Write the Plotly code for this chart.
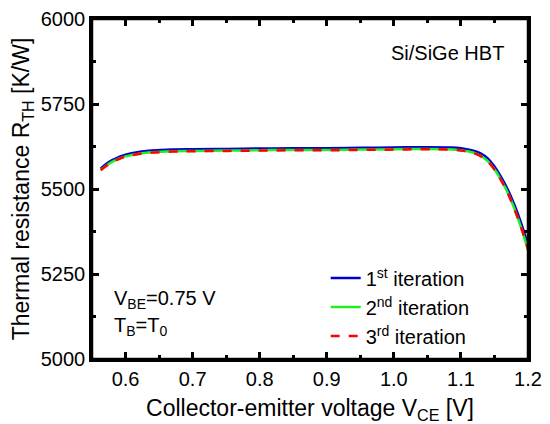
import plotly.graph_objs as go

# values
vce = [0.563, 0.57, 0.58, 0.59, 0.60, 0.62, 0.64, 0.67, 0.70, 0.75, 0.80, 0.85,
       0.90, 0.95, 1.00, 1.05, 1.08, 1.10, 1.12, 1.13, 1.14, 1.15, 1.16, 1.17,
       1.18, 1.19, 1.20]
rth_1st = [5560, 5572, 5585, 5594, 5601, 5609, 5613, 5616, 5617, 5618, 5619, 5620,
           5620, 5621, 5622, 5623, 5622, 5620, 5612, 5604, 5590, 5566, 5535, 5498,
           5452, 5398, 5336]
rth_2nd = [5556, 5567, 5580, 5589, 5596, 5604, 5608, 5611, 5612, 5613, 5614, 5615,
           5615, 5616, 5617, 5618, 5617, 5614, 5606, 5597, 5582, 5558, 5526, 5488,
           5441, 5385, 5320]
rth_3rd = [5555, 5566, 5579, 5588, 5595, 5603, 5607, 5610, 5611, 5612, 5613, 5614,
           5614, 5615, 5616, 5617, 5616, 5613, 5605, 5596, 5581, 5557, 5525, 5487,
           5440, 5386, 5324]

x_range = [0.55, 1.2]
y_range = [5000, 6000]
x_major = [0.6, 0.7, 0.8, 0.9, 1.0, 1.1, 1.2]
y_major = [5000, 5250, 5500, 5750, 6000]

font = "Liberation Sans, Arial, sans-serif"

fig = go.Figure()
fig.add_trace(go.Scatter(x=vce, y=rth_1st, mode="lines", name="1<sup>st</sup> iteration",
                         line=dict(color="#0000CD", width=2.5), line_shape="spline"))
fig.add_trace(go.Scatter(x=vce, y=rth_2nd, mode="lines", name="2<sup>nd</sup> iteration",
                         line=dict(color="#22EE22", width=2.5), line_shape="spline"))
fig.add_trace(go.Scatter(x=vce, y=rth_3rd, mode="lines", name="3<sup>rd</sup> iteration",
                         line=dict(color="#FF0000", width=2.5, dash="dash"), line_shape="spline"))
# plot frame as a closed line around the axis ranges
fig.add_trace(go.Scatter(x=[x_range[0], x_range[1], x_range[1], x_range[0], x_range[0]],
                         y=[y_range[0], y_range[0], y_range[1], y_range[1], y_range[0]],
                         mode="lines", line=dict(color="black", width=2.5),
                         cliponaxis=False, hoverinfo="skip", showlegend=False))

fig.update_xaxes(
    range=x_range, tickvals=x_major, tickformat=".1f",
    showline=True, linecolor="black", linewidth=2.5, mirror="allticks",
    ticks="inside", ticklen=7, tickwidth=2.5, tickcolor="black",
    minor=dict(dtick=0.05, ticks="inside", ticklen=4, tickwidth=2.5, tickcolor="black"),
    showgrid=False, zeroline=False, automargin=False,
    tickfont=dict(family=font, size=20, color="black"),
    title=dict(text="Collector-emitter voltage V<sub>CE</sub> [V]",
               font=dict(family=font, size=23, color="black"), standoff=14),
)
fig.update_yaxes(
    range=y_range, tickvals=y_major,
    showline=True, linecolor="black", linewidth=2.5, mirror="allticks",
    ticks="inside", ticklen=7, tickwidth=2.5, tickcolor="black",
    minor=dict(dtick=125, ticks="inside", ticklen=4, tickwidth=2.5, tickcolor="black"),
    showgrid=False, zeroline=False, automargin=False,
    tickfont=dict(family=font, size=20, color="black"),
    title=dict(text="Thermal resistance R<sub>TH</sub> [K/W]",
               font=dict(family=font, size=23, color="black"), standoff=10),
)

# page body adds an 8px offset, so the figure is sized and placed to compensate
fig.update_layout(
    width=542, height=416,
    margin=dict(l=84, r=22, t=11, b=65),
    paper_bgcolor="white", plot_bgcolor="white",
    font=dict(family=font, size=20, color="black"),
    legend=dict(x=0.536, y=0.01, xanchor="left", yanchor="bottom",
                bgcolor="rgba(0,0,0,0)", font=dict(size=20)),
    annotations=[
        dict(text="Si/SiGe HBT", x=0.95, y=0.9, xref="paper", yref="paper",
             xanchor="right", yanchor="middle", showarrow=False, font=dict(size=20)),
        dict(text="V<sub>BE</sub>=0.75 V", x=0.045, y=0.175, xref="paper", yref="paper",
             xanchor="left", yanchor="middle", showarrow=False, font=dict(size=20)),
        dict(text="T<sub>B</sub>=T<sub>0</sub>", x=0.045, y=0.095, xref="paper", yref="paper",
             xanchor="left", yanchor="middle", showarrow=False, font=dict(size=20)),
    ],
)

fig.write_html("out.html")
